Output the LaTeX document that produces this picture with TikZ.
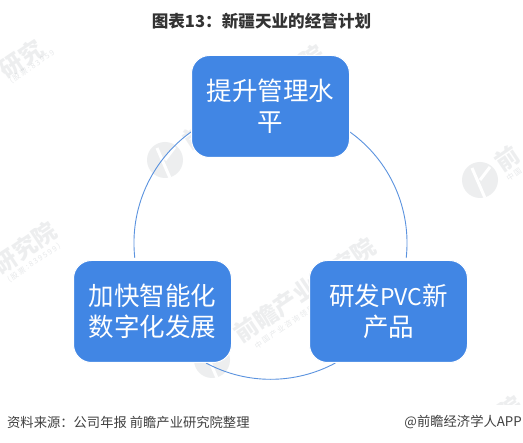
\documentclass[tikz,border=0pt]{standalone}
\usepackage{fontspec}
\setmainfont{Noto Sans CJK SC}
\definecolor{boxblue}{HTML}{4186E4}
\definecolor{ringblue}{HTML}{5B93DF}
\definecolor{wmgrey}{HTML}{8A9299}
\tikzset{
  planbox/.style={draw=white,line width=1pt,fill=boxblue,rounded corners=18pt,minimum width=158pt,minimum height=102pt,
    text=white,align=center,font=\fontsize{25.5}{30.5}\selectfont,inner sep=0pt},
  ring/.style={draw=ringblue,line width=0.9pt},
  wmark/.style={text=wmgrey,opacity=0.15,rotate=34,font=\fontsize{23.5}{24}\selectfont\bfseries,inner sep=0pt},
  wsub/.style={text=wmgrey,opacity=0.2,rotate=34,font=\fontsize{7.5}{8}\selectfont\addfontfeature{LetterSpace=20},inner sep=0pt},
  wlogo/.style={fill=wmgrey,opacity=0.15,circle,minimum size=36pt,inner sep=0pt},
  wcut/.style={draw=white,line width=3pt},
  caption/.style={text=black!75,font=\fontsize{13.3}{15}\selectfont,inner sep=0pt}
}
\begin{document}
\begin{tikzpicture}[x=1pt,y=1pt]
\useasboundingbox (0,0) rectangle (523,443);
\fill[white] (0,0) rectangle (523,443);
% faint watermarks
\node[wlogo] (l1) at (165,283) {};
\draw[wcut] (157,295) -- (170,265) (165,283) -- (175,296);
\node[wlogo] (l2) at (480,263) {};
\draw[wcut] (472,275) -- (485,245) (480,263) -- (490,276);
\node[wlogo] (l3) at (212,83) {};
\draw[wcut] (204,95) -- (217,65) (212,83) -- (222,96);
\node[wmark] (w1) at (254,346) {前瞻产业研究院};
\node[wsub] (s1) at (270,333) {中国产业咨询领导者(股票:839599)};
\node[wmark] (w2) at (305,153) {前瞻产业研究院};
\node[wsub] (s2) at (315,136) {中国产业咨询领导者(股票:839599)};
\node[wmark] (w3) at (25,195) {研究院};
\node[wsub] (s3) at (34,180) {(股票:839599)};
\node[wmark] (w5) at (507,285) {前};
\node[wsub] (s5) at (514,268) {中国};
\begin{scope}
\clip (0,38) rectangle (523,403);
\node[wmark] (w4) at (21,384) {研究};
\node[wsub] (s4) at (32,376) {(股票:83959};
\node[wmark] (w6) at (510,35) {院};
\end{scope}
% ring
\coordinate (c) at (270.5,200);
\coordinate (arcA) at (191,311);
\coordinate (arcC) at (206,80);
\coordinate (arcE) at (406.2,185);
\draw[ring] (arcA) arc[start angle=125.6,end angle=186.3,radius=136.5];
\draw[ring] (arcC) arc[start angle=241.7,end angle=298.3,radius=136.5];
\draw[ring] (arcE) arc[start angle=-6.3,end angle=54.4,radius=136.5];
% boxes
\node[planbox] (plan) at (270.5,336.5) {提升管理水\\平};
\node[planbox] (digi) at (152.5,131.5) {加快智能化\\数字化发展};
\node[planbox] (prod) at (388.5,131.5) {研发{\fontsize{23}{30}\selectfont PVC}新\\产品};
% captions
\node[font=\fontsize{16.6}{19}\selectfont\bfseries,text=black!80,inner sep=0pt] (title) at (261.5,421.5) {图表13：新疆天业的经营计划};
\node[caption,anchor=west] (src) at (7,20.5) {资料来源：公司年报 前瞻产业研究院整理};
\node[caption,anchor=east] (brand) at (522,20.5) {@前瞻经济学人APP};
\end{tikzpicture}
\end{document}
